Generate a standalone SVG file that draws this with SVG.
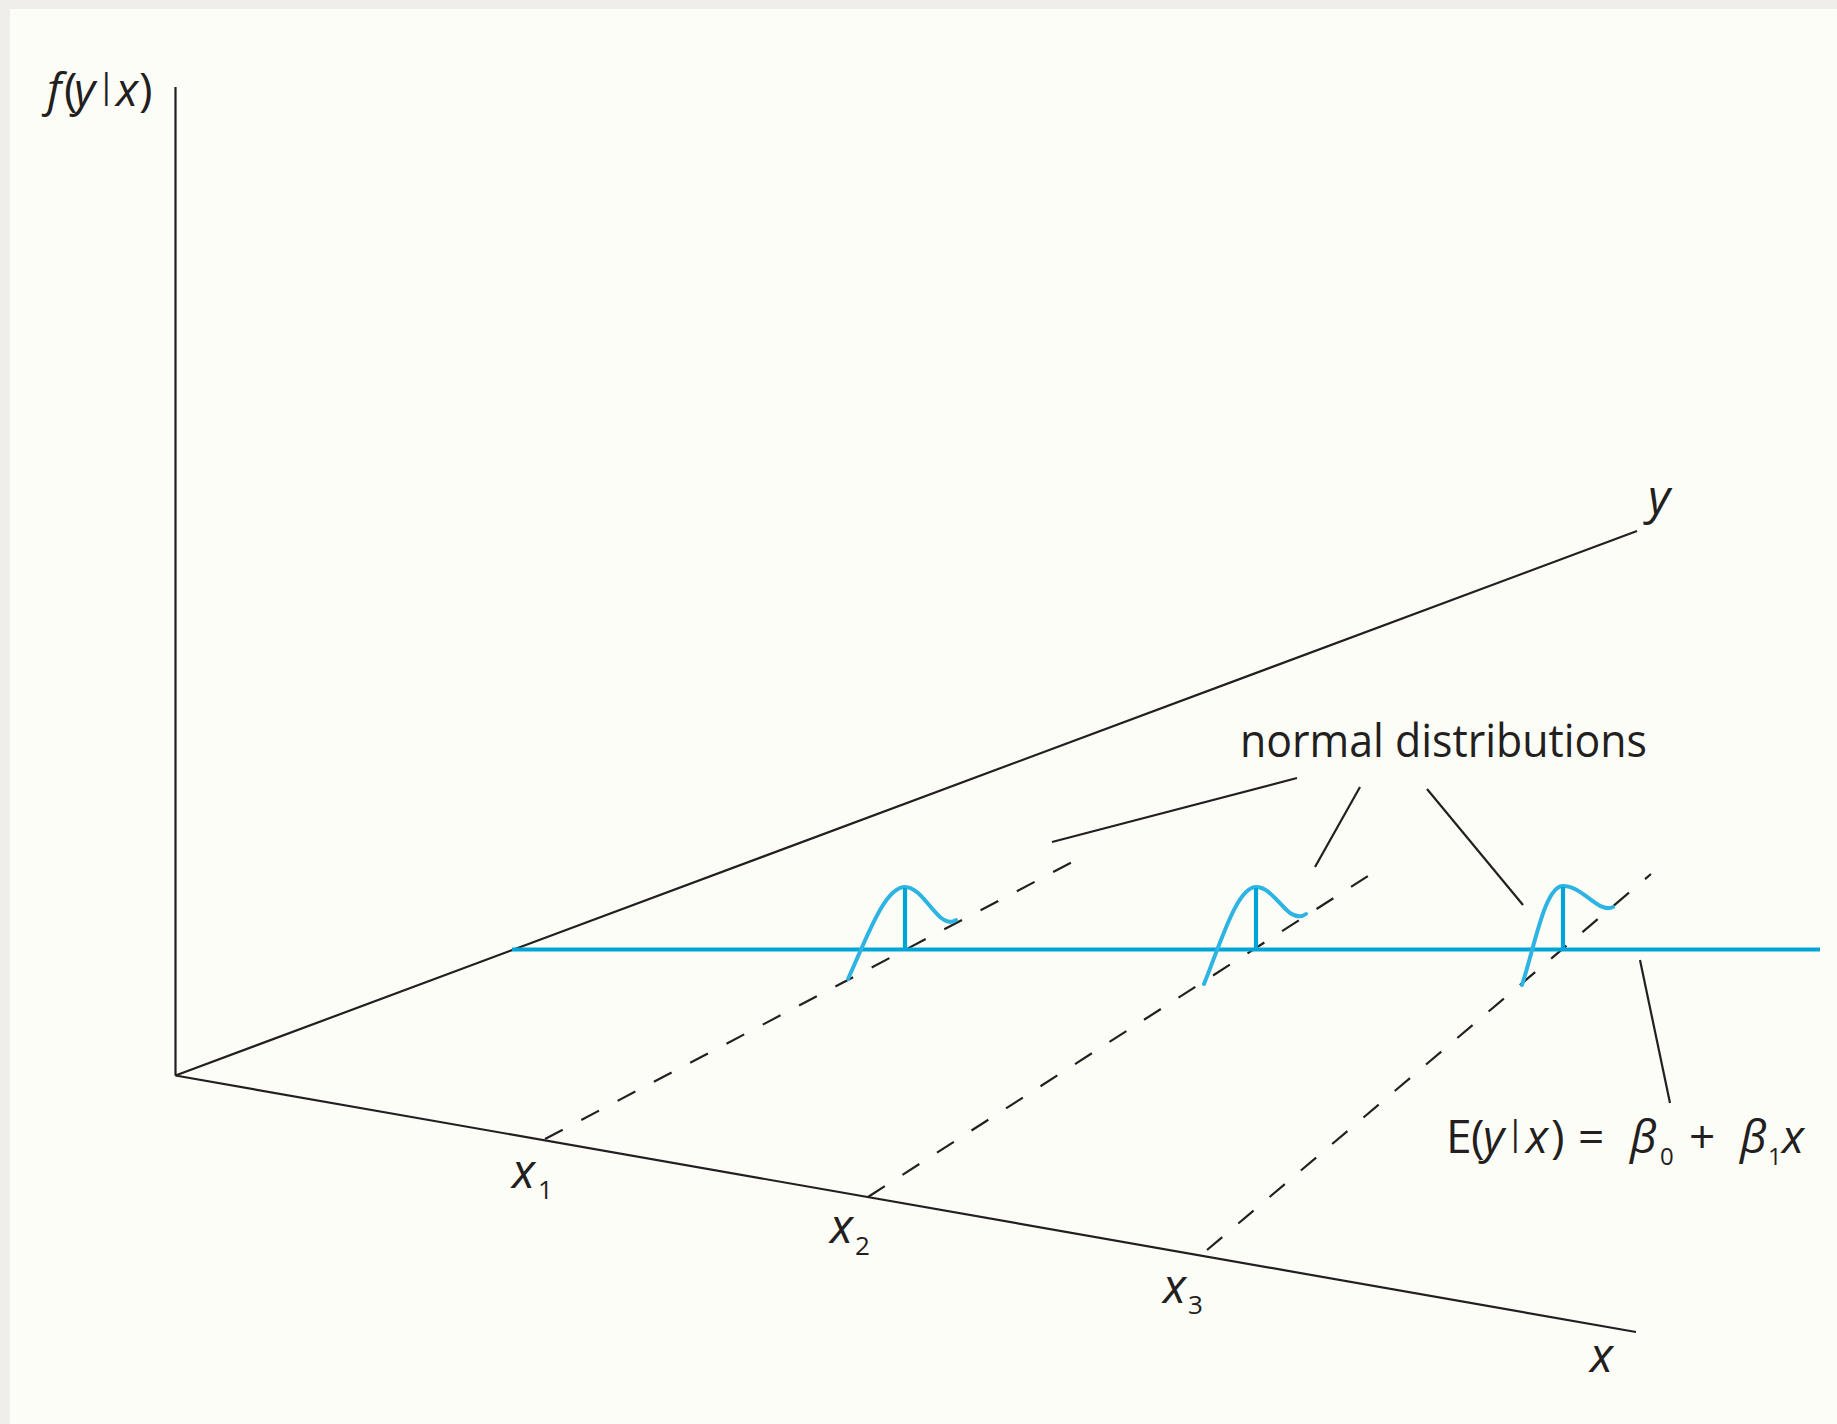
<svg xmlns="http://www.w3.org/2000/svg" width="1837" height="1424" viewBox="0 0 1837 1424">
<style>
.ax{stroke:#231f20;stroke-width:2.2;fill:none;stroke-linecap:butt}
.dash{stroke:#231f20;stroke-width:2.2;fill:none;stroke-dasharray:20 21}
.lead{stroke:#231f20;stroke-width:2.2;fill:none}
.blue{stroke:#00a5d7;stroke-width:4.2;fill:none}
.curve{stroke:#2db4e2;stroke-width:4;fill:none;stroke-linecap:round}
text{font-family:"Open Sans","Noto Sans","Liberation Sans",sans-serif;fill:#231f20;font-size:46px}
.i{font-style:italic}
.bar{font-size:34px}
.lbl{font-size:48px}
.sub{font-size:26px;font-style:normal}
.sub2{font-size:24px}
</style>
<rect x="0" y="0" width="1837" height="1424" fill="#efeeea"/>
<rect x="10" y="9" width="1827" height="1415" fill="#fdfdf8"/>
<g id="axes">
<line class="ax" x1="175.5" y1="87" x2="175.5" y2="1075.5"/>
<line class="ax" x1="175.5" y1="1075.5" x2="1637" y2="531"/>
<line class="ax" x1="175.5" y1="1075.5" x2="1636" y2="1332"/>
</g>
<g id="connectors">
<line class="dash" x1="545" y1="1139" x2="1080" y2="858"/>
<line class="dash" x1="868" y1="1197" x2="1382" y2="867"/>
<line class="dash" x1="1207" y1="1250" x2="1651" y2="874"/>
<line class="lead" x1="1297" y1="778" x2="1052" y2="842"/>
<line class="lead" x1="1360" y1="787" x2="1315" y2="867"/>
<line class="lead" x1="1427" y1="789" x2="1523" y2="905"/>
<line class="lead" x1="1640" y1="960" x2="1670" y2="1103"/>
</g>
<g id="regression-line">
<line class="blue" x1="512" y1="949.5" x2="1820" y2="949.5"/>
</g>
<g id="dist1">
<path class="curve" d="M848,979 C866,940 884,887 905,887 C918,887 928,906 940,917 C946,922 952,923 956,920"/>
<line class="blue" x1="905" y1="888" x2="905" y2="949"/>
</g>
<g id="dist2">
<path class="curve" d="M1204,984 C1221,942 1237,887 1256,887 C1269,887 1279,904 1290,913 C1296,917 1302,917 1306,914"/>
<line class="blue" x1="1256" y1="888" x2="1256" y2="949"/>
</g>
<g id="dist3">
<path class="curve" d="M1522,985 C1535,945 1545,886 1563,886 C1576,886 1586,897 1597,904 C1603,908 1609,909 1613,907"/>
<line class="blue" x1="1563" y1="887" x2="1563" y2="949"/>
</g>
<g id="label-fyx">
<text y="106"><tspan class="i" x="47">f</tspan><tspan x="64">(</tspan><tspan class="i" x="74">y</tspan><tspan class="bar" x="97" y="98">|</tspan><tspan class="i" x="116" y="106">x</tspan><tspan x="139">)</tspan></text>
</g>
<g id="label-y"><text class="i lbl" x="1648" y="514">y</text></g>
<g id="label-x"><text class="i lbl" x="1590" y="1372">x</text></g>
<g id="label-x1"><text class="lbl" y="1188"><tspan class="i" x="512">x</tspan><tspan class="sub" x="538" y="1199">1</tspan></text></g>
<g id="label-x2"><text class="lbl" y="1243"><tspan class="i" x="830">x</tspan><tspan class="sub" x="855" y="1255">2</tspan></text></g>
<g id="label-x3"><text class="lbl" y="1303"><tspan class="i" x="1163">x</tspan><tspan class="sub" x="1188" y="1314">3</tspan></text></g>
<g id="label-normal"><text x="1240" y="757" textLength="407" lengthAdjust="spacingAndGlyphs">normal distributions</text></g>
<g id="label-eq">
<text y="1153"><tspan x="1446">E</tspan><tspan x="1471">(</tspan><tspan class="i" x="1483">y</tspan><tspan class="bar" x="1506" y="1145">|</tspan><tspan class="i" x="1526" y="1153">x</tspan><tspan x="1551">)</tspan><tspan x="1578">=</tspan><tspan class="i" x="1630">β</tspan><tspan class="sub2" x="1660" y="1165">0</tspan><tspan x="1689" y="1153">+</tspan><tspan class="i" x="1740">β</tspan><tspan class="sub2" x="1768" y="1165">1</tspan><tspan class="i" x="1782" y="1153">x</tspan></text>
</g>
</svg>
